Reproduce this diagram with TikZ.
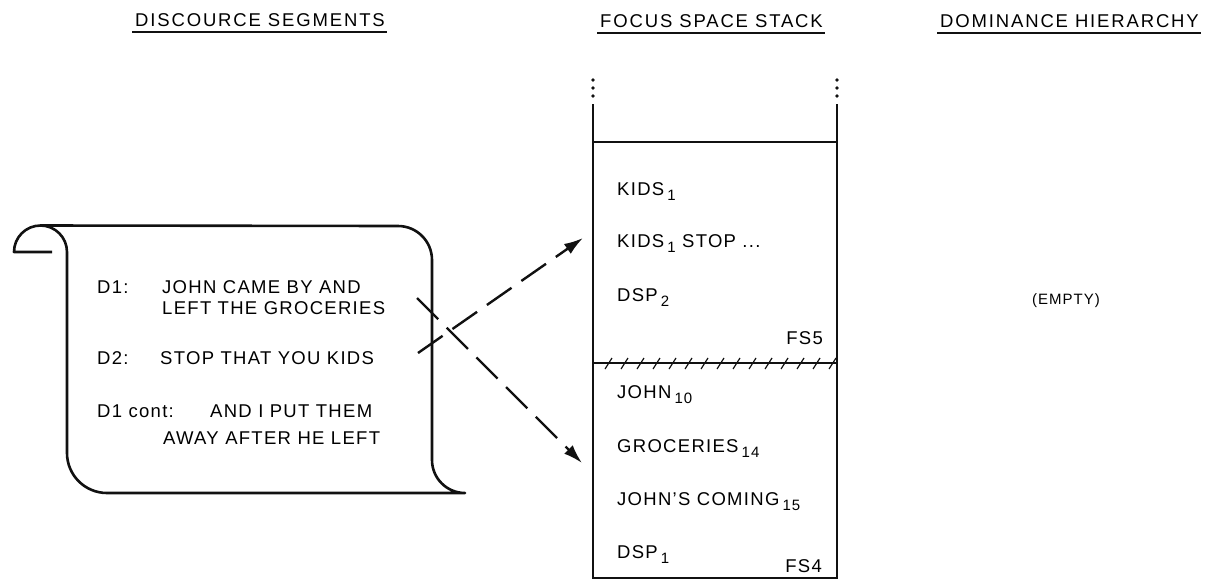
\documentclass[tikz,border=0pt]{standalone}
\usepackage{fontspec}
\setmainfont{Liberation Sans}[LetterSpace=7.0]
\newfontfamily\headfont{Liberation Sans}[LetterSpace=10.0]
\usetikzlibrary{arrows.meta}

% Lowered index digits
\newcommand{\idx}[1]{\,\raisebox{-5pt}{\fontsize{15}{15}\selectfont #1}}

\begin{document}
\begin{tikzpicture}[x=1pt, y=-1pt,
    txt/.style={anchor=base west, inner sep=0pt, font=\fontsize{18.5}{22}\selectfont},
    txtr/.style={txt, anchor=base east},
    head/.style={txt, font=\headfont\fontsize{18.5}{22}\selectfont},
    flow/.style={line width=2.4pt, dash pattern=on 30pt off 12pt, -{Latex[length=19pt,width=12pt]}}]
    % Define colours
    \definecolor{borderColour}{HTML}{111111}

    % Fix page size
    \useasboundingbox (0,0) rectangle (1217,581);

    % Headings
    \node[head] (hsegs) at (135,26) {DISCOURCE SEGMENTS};
    \node[head] (hstack) at (600,27) {FOCUS SPACE STACK};
    \node[head] (hdom) at (940,27) {DOMINANCE HIERARCHY};
    \foreach \h in {hsegs,hstack,hdom}
        \draw[borderColour, line width=1.6pt] ([xshift=-3pt,yshift=-6pt]\h.base west) -- ([xshift=2pt,yshift=-6pt]\h.base east);

    % Scroll
    \draw[borderColour, line width=2.6pt, line join=round]
        (52,252) -- (14,252) arc[start angle=180, end angle=360, radius=26.5]
        -- (67,453) arc[start angle=180, end angle=90, radius=40]
        -- (465,493) arc[start angle=90, end angle=180, radius=33]
        -- (432,260) arc[start angle=0, end angle=-90, radius=34]
        -- (40.5,225.5);

    % Segment texts
    \node[txt] (d1) at (97,293) {D1:};
    \node[txt] (d1a) at (162,293) {JOHN CAME BY AND};
    \node[txt] (d1b) at (162,314) {LEFT THE GROCERIES};
    \node[txt] (d2) at (97,364) {D2:};
    \node[txt] (d2a) at (160,364) {STOP THAT YOU KIDS};
    \node[txt] (d3) at (97,417) {D1 cont:};
    \node[txt] (d3a) at (210,417) {AND I PUT THEM};
    \node[txt] (d3b) at (163,444) {AWAY AFTER HE LEFT};

    % Stack frame
    \foreach \y in {80,88,96} {
        \fill[borderColour] (593,\y) circle (1.8);
        \fill[borderColour] (837,\y) circle (1.8);
    }
    \draw[borderColour, line width=1.8pt] (593,104) -- (593,578) -- (837,578) -- (837,104);
    \draw[borderColour, line width=1.8pt] (593,142) -- (837,142);
    \draw[borderColour, line width=1.8pt] (593,363) -- (837,363);
    \foreach \x in {605,621,...,829}
        \draw[borderColour, line width=1.2pt] (\x,369) -- (\x+7,358);

    % Focus space FS5
    \node[txt] (kids) at (617,195) {KIDS\idx{1}};
    \node[txt] (kidsstop) at (617,247) {KIDS\idx{1} STOP ...};
    \node[txt] (dsp2) at (617,301) {DSP\idx{2}};
    \node[txtr] (fs5) at (823,344) {FS5};

    % Focus space FS4
    \node[txt] (john) at (617,398) {JOHN\idx{10}};
    \node[txt] (groc) at (617,452) {GROCERIES\idx{14}};
    \node[txt] (coming) at (617,505) {JOHN'S COMING\idx{15}};
    \node[txt] (dsp1) at (617,558) {DSP\idx{1}};
    \node[txtr] (fs4) at (822,572) {FS4};

    % Dominance hierarchy
    \node[txt, font=\fontsize{15}{18}\selectfont, anchor=base] (empty) at (1066,304) {(EMPTY)};

    % Links between segments and spaces
    \coordinate (d2out) at (418,353);
    \coordinate (kidsin) at (583,238);
    \coordinate (d1out) at (417,298);
    \coordinate (grocin) at (582,463);
    \draw[flow, borderColour] (d2out) -- (kidsin);
    \draw[flow, borderColour] (d1out) -- (grocin);

\end{tikzpicture}
\end{document}
